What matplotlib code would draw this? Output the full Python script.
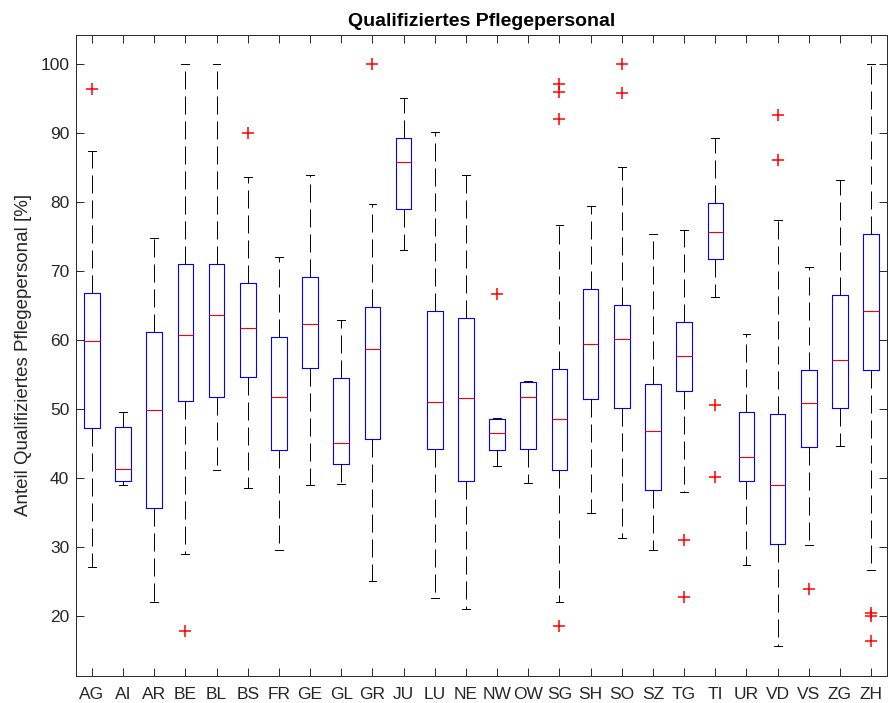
import matplotlib
matplotlib.use('Agg')
import matplotlib.pyplot as plt

# Kantone
cantons = ['AG', 'AI', 'AR', 'BE', 'BL', 'BS', 'FR', 'GE', 'GL', 'GR', 'JU', 'LU', 'NE',
           'NW', 'OW', 'SG', 'SH', 'SO', 'SZ', 'TG', 'TI', 'UR', 'VD', 'VS', 'ZG', 'ZH']

# box statistics (in %)
medians = [59.9, 41.35, 49.9, 60.8, 63.6, 61.7, 51.7, 62.3, 45.1, 58.65, 85.8, 51.0, 51.55,
           46.5, 51.7, 48.6, 59.4, 60.2, 46.8, 57.7, 75.6, 43.0, 39.0, 50.9, 57.1, 64.15]
q1 = [47.3, 39.5, 35.6, 51.1, 51.7, 54.6, 44.0, 56.0, 42.1, 45.65, 79.0, 44.15, 39.5,
      44.0, 44.15, 41.1, 51.45, 50.1, 38.3, 52.65, 71.8, 39.5, 30.5, 44.55, 50.15, 55.7]
q3 = [66.8, 47.45, 61.1, 71.0, 71.0, 68.25, 60.45, 69.2, 54.45, 64.8, 89.25, 64.15, 63.25,
      48.5, 53.95, 55.75, 67.35, 65.15, 53.7, 62.65, 79.9, 49.5, 49.25, 55.7, 66.55, 75.35]
whislo = [27.05, 38.95, 22.05, 29.0, 41.2, 38.55, 29.5, 39.0, 39.15, 25.1, 73.1, 22.6, 21.05,
          41.7, 39.3, 22.1, 34.95, 31.35, 29.5, 38.0, 66.2, 27.45, 15.65, 30.25, 44.65, 26.7]
whishi = [87.4, 49.5, 74.85, 100, 100, 83.65, 72.1, 83.85, 62.95, 79.7, 95.15, 90.15, 83.85,
          48.75, 54.1, 76.65, 79.45, 85.1, 75.4, 76.0, 89.35, 60.9, 77.35, 70.6, 83.2, 100]
outliers = {
    'AG': [96.35], 'BE': [17.8], 'BS': [90.0], 'GR': [100], 'NW': [66.65],
    'SG': [97.1, 95.9, 92.05, 18.6], 'SO': [100, 95.85], 'TG': [31.05, 22.75],
    'TI': [50.6, 40.15], 'VD': [92.6, 86.15], 'VS': [23.9], 'ZH': [20.4, 20.0, 16.4],
}

plt.rcParams['font.family'] = ['Liberation Sans', 'DejaVu Sans']
plt.rcParams['lines.scale_dashes'] = False

stats = []
for i, c in enumerate(cantons):
    stats.append(dict(label=c, med=medians[i], q1=q1[i], q3=q3[i],
                      whislo=whislo[i], whishi=whishi[i], fliers=outliers.get(c, [])))

fig = plt.figure(figsize=(8.88, 7.03), dpi=100)
ax = fig.add_axes([0.0859, 0.0388, 0.9127, 0.9118])

ax.bxp(stats, widths=0.5, showfliers=True,
       boxprops=dict(color='blue', linewidth=0.8),
       medianprops=dict(color='red', linewidth=0.8),
       whiskerprops=dict(color='black', linewidth=0.7, linestyle=(0, (13, 5))),
       capprops=dict(color='black', linewidth=0.7),
       flierprops=dict(marker='+', markeredgecolor='red', markersize=8,
                       markeredgewidth=1.1, linestyle='none'))

ax.set_xlim(0.5, 26.5)
ax.set_ylim(11.35, 104.25)
ax.set_yticks(range(20, 101, 10))
ax.set_xticks(range(1, len(cantons) + 1))
ax.set_xticklabels(cantons)

gray = '#262626'
for s in ax.spines.values():
    s.set_color(gray)
    s.set_linewidth(0.7)
ax.tick_params(direction='in', length=6, width=0.7, color=gray, labelcolor=gray,
               labelsize=12.5, top=True, right=True, pad=5)
ax.tick_params(axis='x', pad=8)

ax.set_title('Qualifiziertes Pflegepersonal', fontsize=14, fontweight='bold', pad=6)
ax.set_ylabel('Anteil Qualifiziertes Pflegepersonal [%]', fontsize=13.5, color=gray, labelpad=6)

fig.savefig('out.png', dpi=100)
